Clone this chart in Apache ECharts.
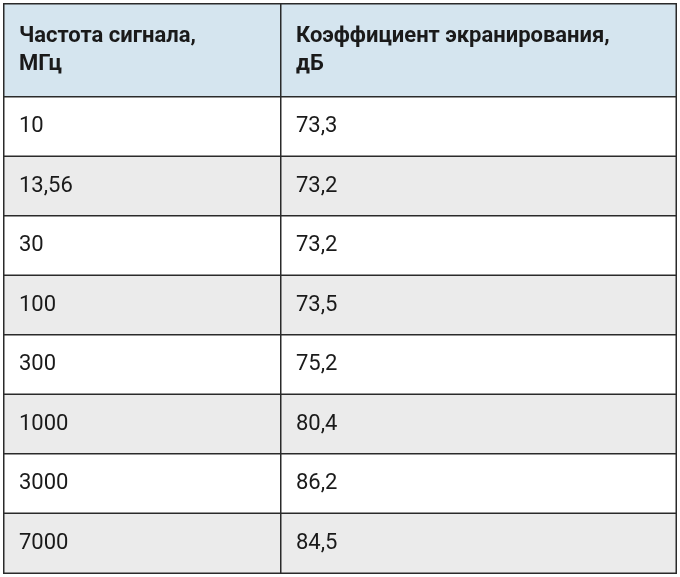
<!DOCTYPE html>
<html>
<head>
<meta charset="utf-8">
<script src="https://cdn.jsdelivr.net/npm/echarts@6/dist/echarts.min.js"></script>
<style>html,body{margin:0;padding:0;background:#fff}#main{width:680px;height:577px}</style>
</head>
<body>
<div id="main"></div>
<script>
var headers = ['Частота сигнала,\nМГц', 'Коэффициент экранирования,\nдБ'];
var freqs = ['10', '13,56', '30', '100', '300', '1000', '3000', '7000'];
var coefs = ['73,3', '73,2', '73,2', '73,5', '75,2', '80,4', '86,2', '84,5'];

var chart = echarts.init(document.getElementById('main'));
var font = "'Liberation Sans Narrow', 'Roboto', sans-serif";
var colLeft = [4, 281], colWidth = [277, 395];
var grids = [], xAxes = [], yAxes = [], series = [];

function addCell(idx, col, top, height, rows, texts, header) {
  grids.push({left: colLeft[col], top: top, width: colWidth[col], height: height});
  xAxes.push({type: 'category', data: ['c'], gridIndex: idx, show: false});
  yAxes.push({type: 'category', data: rows.map(String), gridIndex: idx, inverse: true, show: false});
  series.push({
    type: 'heatmap', xAxisIndex: idx, yAxisIndex: idx,
    data: texts.map(function (t, i) {
      return {value: [0, i, 1], name: t,
        itemStyle: {color: header ? '#d5e5ef' : (i % 2 ? '#ebebeb' : '#ffffff')}};
    }),
    itemStyle: {borderColor: '#2a2a2a', borderWidth: 1.5},
    label: {
      show: true, position: 'insideLeft', distance: 16,
      formatter: function (p) { return p.name; },
      fontFamily: font, fontSize: 22, color: '#1a1a1a',
      fontWeight: header ? 'bold' : 'normal', lineHeight: 28
    },
    emphasis: {disabled: true}
  });
}

addCell(0, 0, 4, 93, [0], [headers[0]], true);
addCell(1, 1, 4, 93, [0], [headers[1]], true);
addCell(2, 0, 97, 476, freqs.map(function (f, i) { return i; }), freqs, false);
addCell(3, 1, 97, 476, coefs.map(function (f, i) { return i; }), coefs, false);

chart.setOption({
  animation: false,
  grid: grids, xAxis: xAxes, yAxis: yAxes, series: series
});
</script>
</body>
</html>
